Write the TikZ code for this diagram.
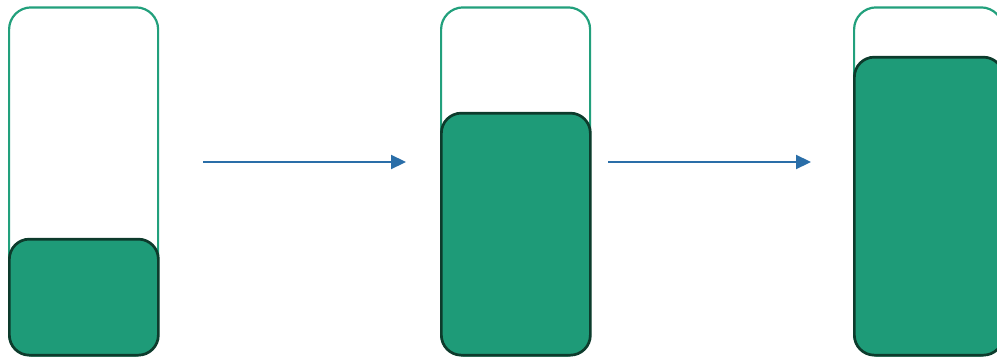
\documentclass[tikz,border=0pt]{standalone}
\usetikzlibrary{arrows.meta}
\definecolor{outlinegreen}{HTML}{22A07C}
\definecolor{fillgreen}{HTML}{1E9B78}
\definecolor{darkedge}{HTML}{0D3B2C}
\definecolor{arrowblue}{HTML}{2A6EA8}
\begin{document}
\begin{tikzpicture}[x=1pt,y=-1pt,
  tube/.style={draw=outlinegreen, line width=2.2pt, rounded corners=22pt, inner sep=0pt, minimum width=149pt, anchor=south west},
  level/.style={draw=darkedge, fill=fillgreen, line width=2.7pt, rounded corners=20pt, inner sep=0pt, minimum width=149pt, anchor=south west},
  flow/.style={draw=arrowblue, line width=2.2pt, -{Triangle[length=15pt,width=14pt]}}]
\useasboundingbox (0,0) rectangle (997,359);
\clip (0,0) rectangle (997,359);
\node[tube, minimum height=348pt] (t1) at (8,356.5) {};
\node[level, minimum height=116pt] (l1) at (8,356.5) {};
\node[tube, minimum height=348pt] (t2) at (440,356.5) {};
\node[level, minimum height=242pt] (l2) at (440,356.5) {};
\node[tube, minimum height=348pt] (t3) at (853,356.5) {};
\node[level, minimum height=298pt] (l3) at (853,356.5) {};
\coordinate (a1s) at (203,162);
\coordinate (a1e) at (406,162);
\coordinate (a2s) at (608,162);
\coordinate (a2e) at (811,162);
\draw[flow] (a1s) -- (a1e);
\draw[flow] (a2s) -- (a2e);
\end{tikzpicture}
\end{document}
